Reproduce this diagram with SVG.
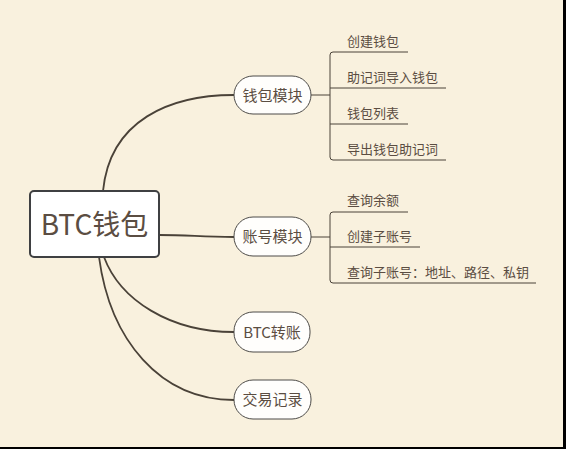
<svg xmlns="http://www.w3.org/2000/svg" width="566" height="449" viewBox="0 0 566 449">
<style>
.bg{fill:#f9f1de}
.topic{fill:#fffefc;stroke:#4d4b48;stroke-width:1}
.root{fill:#ffffff;stroke:#3f4042;stroke-width:2}
.conn{fill:none;stroke:#4a4238;stroke-width:1.8}
.sub{fill:none;stroke:#4a4238;stroke-width:1}
.t{font-family:"Noto Sans CJK SC","Noto Sans",sans-serif;fill:#5b4d42}
.tt{font-size:15px;text-anchor:middle}
.st{font-size:13px}
</style>
<rect class="bg" x="0" y="0" width="566" height="449"/>
<rect x="563" y="0" width="3" height="449" fill="#000"/>
<rect x="0" y="447" width="566" height="2" fill="#000"/>
<g id="connectors">
<path class="conn" d="M103,191 C110,120 170,95 234,95"/>
<path class="conn" d="M159,235 C190,235 200,237 234,237"/>
<path class="conn" d="M104,257 C120,300 170,332 234,332"/>
<path class="conn" d="M99,257 C110,340 160,400 234,400"/>
<path class="sub" d="M311,95 H330"/>
<path class="sub" d="M408,52 H333 Q330,52 330,55 V157 Q330,160 333,160 H446"/>
<path class="sub" d="M330,88 H446"/>
<path class="sub" d="M330,124 H408"/>
<path class="sub" d="M311,237 H330"/>
<path class="sub" d="M408,212 H333 Q330,212 330,215 V280 Q330,283 333,283 H536"/>
<path class="sub" d="M330,247 H420"/>
</g>
<g id="root">
<rect class="root" x="30" y="191" width="129" height="66" rx="4"/>
<text class="t" x="94.5" y="235" font-size="28" text-anchor="middle">BTC钱包</text>
</g>
<g id="wallet">
<rect class="topic" x="234" y="76" width="77" height="38" rx="19"/>
<text class="t tt" x="272.5" y="101">钱包模块</text>
</g>
<g id="account">
<rect class="topic" x="234" y="217" width="77" height="39" rx="19"/>
<text class="t tt" x="272.5" y="242">账号模块</text>
</g>
<g id="transfer">
<rect class="topic" x="234" y="312" width="76" height="40" rx="19"/>
<text class="t tt" x="272" y="338">BTC转账</text>
</g>
<g id="records">
<rect class="topic" x="234" y="380" width="77" height="39" rx="19"/>
<text class="t tt" x="272.5" y="405">交易记录</text>
</g>
<g id="w1"><text class="t st" x="347" y="46">创建钱包</text></g>
<g id="w2"><text class="t st" x="347" y="82">助记词导入钱包</text></g>
<g id="w3"><text class="t st" x="347" y="118">钱包列表</text></g>
<g id="w4"><text class="t st" x="347" y="154">导出钱包助记词</text></g>
<g id="a1"><text class="t st" x="347" y="205">查询余额</text></g>
<g id="a2"><text class="t st" x="347" y="241">创建子账号</text></g>
<g id="a3"><text class="t st" x="347" y="277">查询子账号：地址、路径、私钥</text></g>
</svg>
